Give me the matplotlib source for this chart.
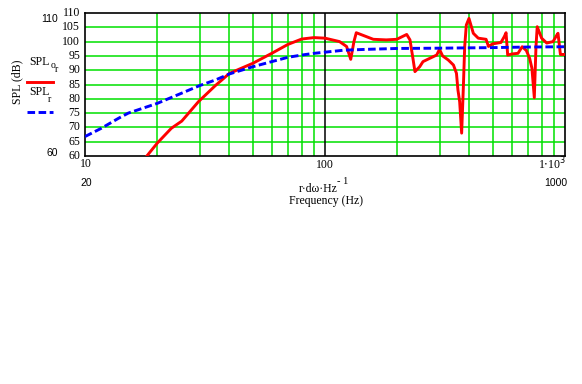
import matplotlib
matplotlib.use("Agg")
import matplotlib.pyplot as plt

# courbe bleue (SPL_r)
f_r = [10, 11.7, 13.8, 15.15, 20, 25, 30, 35, 40, 50, 60, 70, 80, 90, 100,
       120, 150, 200, 300, 500, 700, 1000]
spl_r = [66.8, 69.7, 73.2, 75.0, 78.4, 81.8, 84.6, 86.6, 88.7, 91.2, 93.0,
         94.5, 95.3, 95.9, 96.3, 97.0, 97.3, 97.6, 97.7, 97.9, 98.1, 98.2]

# courbe rouge (SPL_or)
f_or = [18.1, 20, 22.9, 25.3, 29.7, 34.8, 40, 50, 60, 70, 80, 90, 100, 115,
        123, 128, 132, 135, 159, 180, 199, 219, 226, 233, 237, 248, 256, 274,
        292, 300, 309, 326, 343, 353, 358, 364, 371, 377, 382, 388, 398, 415,
        435, 469, 480, 499, 541, 559, 568, 577, 604, 637, 663, 690, 712, 728,
        745, 757, 766, 799, 839, 892, 920, 935, 957, 1000]
spl_or = [60, 64.5, 69.7, 72.2, 79.0, 84.5, 88.9, 92.4, 95.9, 99.0, 100.9,
          101.4, 101.2, 100.0, 98.3, 93.8, 100.0, 103.1, 100.8, 100.6, 100.8,
          102.5, 100.6, 93.6, 89.5, 91.2, 93.0, 94.2, 95.3, 97.3, 95.0, 93.6,
          91.8, 88.9, 83.1, 79.0, 68.0, 83.8, 98.3, 105.8, 108.1, 102.9, 101.2,
          100.8, 98.3, 99.2, 99.7, 101.8, 103.1, 95.3, 95.7, 95.9, 98.2, 96.9,
          94.2, 90.7, 80.4, 98.3, 105.2, 101.2, 99.5, 100.0, 102.0, 102.9,
          95.5, 95.5]

yticks = [60, 65, 70, 75, 80, 85, 90, 95, 100, 105, 110]
green_x = [20, 30, 40, 50, 60, 70, 80, 90, 200, 300, 400, 500, 600, 700, 800, 900]

serif = "Liberation Serif"
sans = "Liberation Sans"
fs = 8.5

fig = plt.figure(figsize=(5.82, 3.84), dpi=100)
ax = fig.add_axes([85 / 582, 1 - 156 / 384, 480 / 582, 143 / 384])

# grille verte
for v in yticks[1:-1]:
    ax.axhline(v, color="#00e000", lw=1.1, zorder=1)
for v in green_x:
    ax.axvline(v, color="#00e000", lw=1.1, zorder=1)
ax.axvline(100, color="black", lw=1.1, zorder=1)

ax.plot(f_or, spl_or, color="#ff0000", lw=2.1, zorder=3)
ax.plot(f_r, spl_r, color="#0000ff", lw=2.1, dashes=(2.6, 1.2), zorder=4)

ax.set_xscale("log")
ax.set_xlim(10, 1000)
ax.set_ylim(60, 110)
ax.set_xticks([])
ax.set_yticks([])
ax.minorticks_off()
for s in ax.spines.values():
    s.set_linewidth(1.2)

# graduations y
for v in yticks:
    ax.text(-0.01, v, str(v), transform=ax.get_yaxis_transform(),
            ha="right", va="center", family=serif, fontsize=fs)

# graduations x
fig.text(86 / 582, 1 - 164 / 384, "10", family=serif, fontsize=fs, ha="center", va="center")
fig.text(325 / 582, 1 - 165 / 384, "100", family=serif, fontsize=fs, ha="center", va="center")
fig.text(566 / 582, 1 - 164 / 384, r"1$\cdot$10$^{3}$", family=serif, fontsize=fs,
         ha="right", va="center")

# étiquettes parasites
fig.text(50 / 582, 1 - 19 / 384, "110", family=sans, fontsize=7.5, ha="center", va="center")
fig.text(52 / 582, 1 - 153 / 384, "60", family=sans, fontsize=7.5, ha="center", va="center")
fig.text(86 / 582, 1 - 183 / 384, "20", family=sans, fontsize=7.5, ha="center", va="center")
fig.text(556 / 582, 1 - 183 / 384, "1000", family=sans, fontsize=7.5, ha="center", va="center")

# titres des axes
fig.text(318 / 582, 1 - 189 / 384, "r·dω·Hz", family=serif, fontsize=fs,
         ha="center", va="center")
fig.text(337 / 582, 1 - 182 / 384, "- 1", family=serif, fontsize=7.5, ha="left", va="center")
fig.text(326 / 582, 1 - 201 / 384, "Frequency (Hz)", family=serif, fontsize=fs,
         ha="center", va="center")
fig.text(17 / 582, 1 - 82 / 384, "SPL (dB)", family=serif, fontsize=fs, rotation=90,
         ha="center", va="center")

# légende
fig.text(29 / 582, 1 - 62 / 384, "SPL", family=serif, fontsize=fs, ha="left", va="center")
fig.text(51 / 582, 1 - 66 / 384, "o", family=serif, fontsize=7, ha="left", va="center")
fig.text(55 / 582, 1 - 70 / 384, "r", family=serif, fontsize=7, ha="left", va="center")
fig.add_artist(plt.Line2D([27 / 582, 53 / 582], [1 - 82 / 384, 1 - 82 / 384],
                          color="#ff0000", lw=2.1))
fig.text(29 / 582, 1 - 92 / 384, "SPL", family=serif, fontsize=fs, ha="left", va="center")
fig.text(48 / 582, 1 - 100 / 384, "r", family=serif, fontsize=7, ha="left", va="center")
fig.add_artist(plt.Line2D([27 / 582, 53 / 582], [1 - 112 / 384, 1 - 112 / 384],
                          color="#0000ff", lw=2.1, dashes=(2.6, 1.2)))

fig.savefig("out.png", dpi=100)
